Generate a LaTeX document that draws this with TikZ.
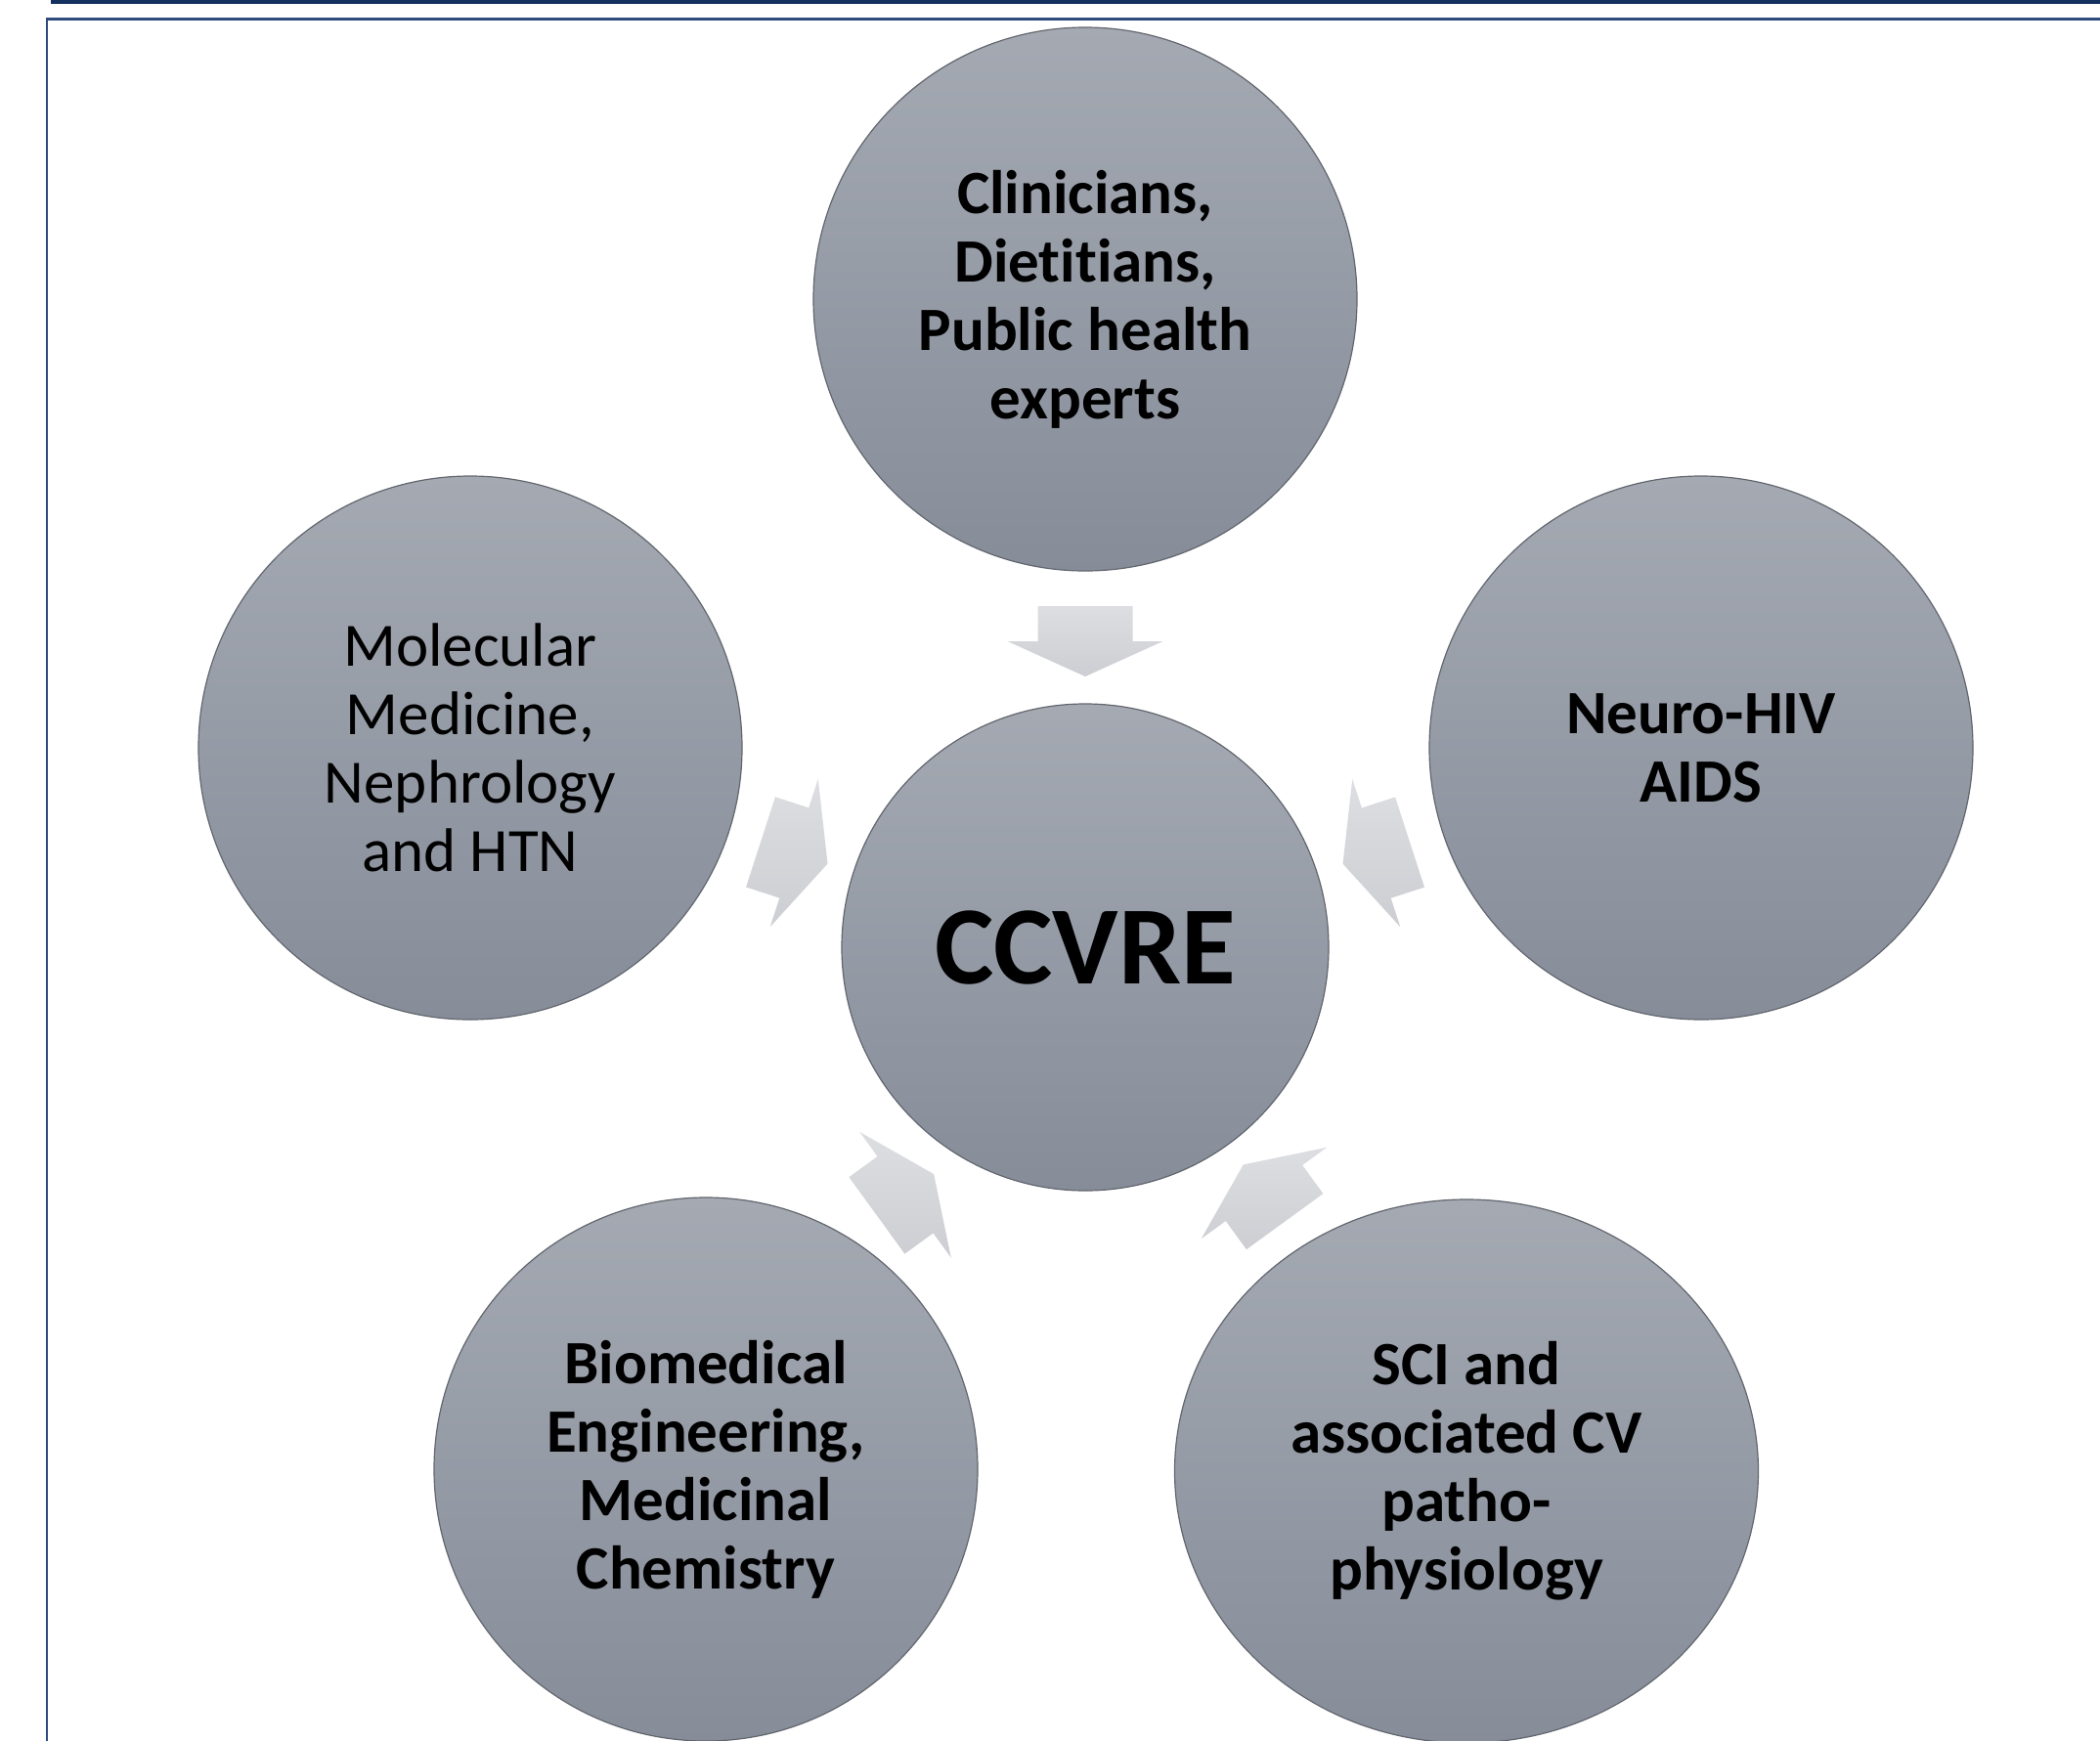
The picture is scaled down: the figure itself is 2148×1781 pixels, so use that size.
\documentclass[tikz,border=0pt]{standalone}
\usepackage{fontspec}
\setmainfont{Carlito}[Ligatures={NoCommon}]
\usetikzlibrary{calc,shapes.geometric}
\definecolor{navy}{HTML}{13305F}
\definecolor{framecol}{HTML}{2F4A7C}
\definecolor{ctop}{HTML}{A4A9B2}
\definecolor{cbot}{HTML}{868D99}
\definecolor{cline}{HTML}{62666E}
\definecolor{atop}{HTML}{DDDEE1}
\definecolor{abot}{HTML}{CDCED3}
\tikzset{
  bubble/.style={circle, minimum size=556pt, inner sep=0pt, top color=ctop, bottom color=cbot,
    draw=cline, line width=1.2pt, align=center, text=black,
    font=\fontsize{63}{70}\selectfont\bfseries},
  plainbubble/.style={bubble, font=\fontsize{63}{70}\selectfont},
  bigbubble/.style={bubble, minimum size=498pt, font=\fontsize{114}{120}\selectfont\bfseries},
  arrowshape/.style={top color=atop, bottom color=abot},
}
\begin{document}
\begin{tikzpicture}[x=1pt,y=-1pt]
\useasboundingbox (0,0) rectangle (2148,1781);
\clip (0,0) rectangle (2148,1781);
\fill[white] (0,0) rectangle (2148,1781);
% frame
\fill[navy] (52,0) rectangle (2148,3.5);
\draw[framecol, line width=2.5pt] (2148,19.5) -- (48,19.5) -- (48,1781);
% circles
\node[bigbubble] (ctr) at (1110,969) {CCVRE};
\node[bubble] (top) at (1110,306) {Clinicians,\\Dietitians,\\Public health\\experts};
\node[plainbubble] (lft) at (481,765) {Molecular\\Medicine,\\Nephrology\\and HTN};
\node[bubble] (rgt) at (1740,765) {Neuro-HIV\\AIDS};
\node[bubble] (bl) at (722,1503) {Biomedical\\Engineering,\\Medicinal\\Chemistry};
\node[bubble, ellipse, minimum width=597pt, minimum height=556pt] (br) at (1500,1505) {SCI and\\associated CV\\patho-\\physiology};
% block arrows pointing to the centre
\foreach \o/\d/\off in {top/313/0, lft/313/0, rgt/313/0, bl/313/-18, br/311/0} {
  \path[arrowshape] let \p1=($(\o.center)-(ctr.center)$), \n1={atan2(\y1,\x1)}, \n2={\n1+\off} in
    ($(ctr.center)+(\n1:\d pt)+(\n2:-36pt)$)
    -- ($(ctr.center)+(\n1:\d pt)+(\n2+90:79.5pt)$)
    -- ($(ctr.center)+(\n1:\d pt)+(\n2+90:48.5pt)$)
    -- ($(ctr.center)+(\n1:\d pt)+(\n2:36pt)+(\n2+90:48.5pt)$)
    -- ($(ctr.center)+(\n1:\d pt)+(\n2:36pt)+(\n2-90:48.5pt)$)
    -- ($(ctr.center)+(\n1:\d pt)+(\n2-90:48.5pt)$)
    -- ($(ctr.center)+(\n1:\d pt)+(\n2-90:79.5pt)$)
    -- cycle;
}
\end{tikzpicture}
\end{document}
